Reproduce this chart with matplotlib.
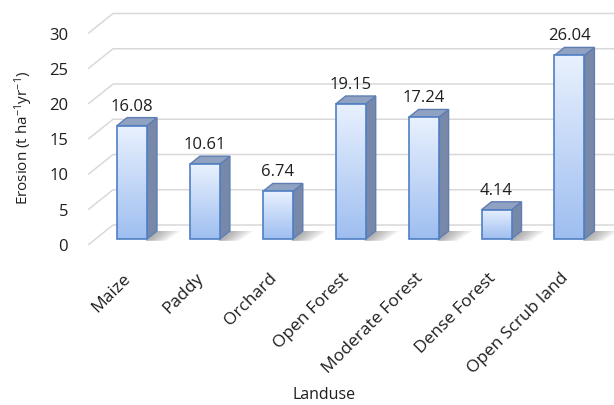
import numpy as np
import matplotlib
matplotlib.use('Agg')
import matplotlib.pyplot as plt
from matplotlib.patches import Polygon
from matplotlib.colors import LinearSegmentedColormap

# ---------------- data ----------------
categories = ['Maize', 'Paddy', 'Orchard', 'Open Forest', 'Moderate Forest',
              'Dense Forest', 'Open Scrub land']
erosion = [16.08, 10.61, 6.74, 19.15, 17.24, 4.14, 26.04]
y_ticks = [0, 5, 10, 15, 20, 25, 30]
x_title = 'Landuse'
y_title = r'Erosion (t ha$^{-1}$yr$^{-1}$)'

# ---------------- style ----------------
plt.rcParams['font.family'] = ['Open Sans', 'DejaVu Sans']
plt.rcParams['mathtext.fontset'] = 'custom'
plt.rcParams['mathtext.rm'] = 'Open Sans'
plt.rcParams['mathtext.it'] = 'Open Sans:italic'
plt.rcParams['mathtext.default'] = 'regular'

TXT = '#1f1f1f'
GRID = '#d9d9d9'
FS_YTICK = 12
FS_XTICK = 12.5
FS_DATA = 12
FS_TITLE = 11

W, H, DPI = 614, 405, 100
fig = plt.figure(figsize=(W / DPI, H / DPI), dpi=DPI)
fig.patch.set_facecolor('white')

# layout (pixels)
x0_px, slot_px = 124.5, 72.9      # category 0 centre, category spacing
base_px, unit_px = 245, 7.05      # y pixel of value 0, pixels per unit
ax_left_px = 80
ax = fig.add_axes([ax_left_px / W, (H - base_px) / H, (W - ax_left_px) / W, base_px / H])
ax.patch.set_visible(False)
for s in ax.spines.values():
    s.set_visible(False)

# pseudo-3D depth (full floor depth in data units)
DX = 25 / slot_px
DY = 20 / unit_px
f_d, b_d = 0.3, 0.7               # bar front / back depth fractions
fx, fy = f_d * DX, f_d * DY
ddx, ddy = (b_d - f_d) * DX, (b_d - f_d) * DY
BW = 30 / slot_px
n = len(categories)
xs = np.arange(n)

# wall gridlines
for t in y_ticks:
    ax.plot([-0.5, -0.5 + DX, n - 0.5 + DX + 0.5], [t, t + DY, t + DY],
            color=GRID, lw=1.1, zorder=1, clip_on=False, solid_capstyle='butt')

# shadows
for i, v in enumerate(erosion):
    x1 = xs[i] + fx + BW / 2
    for k in range(6):
        s = (k + 1) / 6 * 0.32
        ax.add_patch(Polygon([(x1 - 0.02, fy - 0.25), (x1 + ddx, fy + ddy), (x1 + ddx + s, fy + ddy),
                              (x1 + s * 0.8, fy - 0.25)], closed=True,
                             facecolor='#404040', edgecolor='none', alpha=0.08, zorder=2))

# bars: front faces
bars = ax.bar(xs + fx, erosion, width=BW, bottom=fy, facecolor='none',
              edgecolor='#4f7fc4', linewidth=1.2, zorder=6)
cmap = LinearSegmentedColormap.from_list('g', ['#9ebef0', '#e9f1fe'])
grad = np.linspace(0, 1, 256).reshape(-1, 1)
for i, (b, v) in enumerate(zip(bars, erosion)):
    left = xs[i] + fx - BW / 2
    x1 = left + BW
    im = ax.imshow(grad, cmap=cmap, origin='lower', aspect='auto',
                   extent=[left, x1, fy, fy + v], zorder=5, interpolation='bilinear')
    im.set_clip_path(b)
    # side face
    ax.add_patch(Polygon([(x1, fy), (x1 + ddx, fy + ddy), (x1 + ddx, fy + v + ddy), (x1, fy + v)],
                         closed=True, facecolor='#7888a8', edgecolor='#5f7db3', lw=1.0, zorder=4))
    # top face
    ax.add_patch(Polygon([(left, fy + v), (x1, fy + v), (x1 + ddx, fy + v + ddy), (left + ddx, fy + v + ddy)],
                         closed=True, facecolor='#90a2c2', edgecolor='#5f7db3', lw=1.0, zorder=4))
    ax.annotate(f'{v:.2f}', xy=(xs[i] + fx, fy + v), xytext=(0, 13.7), textcoords='offset points',
                ha='center', va='center', fontsize=FS_DATA, color=TXT, zorder=7)

ax.set_xlim((ax_left_px - x0_px) / slot_px, (W - x0_px) / slot_px)
ax.set_ylim(0, base_px / unit_px)

# ticks
ax.set_yticks(y_ticks)
ax.tick_params(axis='y', length=0, pad=8.6, labelsize=FS_YTICK, labelcolor=TXT)
ax.set_xticks(xs + 4 / slot_px)
ax.set_xticklabels(categories, rotation=45, ha='right', va='center', rotation_mode='anchor')
ax.tick_params(axis='x', length=0, pad=22.3, labelsize=FS_XTICK, labelcolor=TXT)

# axis titles
fig.text(24 / W, 1 - 137.5 / H, y_title, rotation=90, ha='center', va='center',
         fontsize=FS_TITLE, color=TXT)
fig.text(324 / W, 1 - 395 / H, x_title, ha='center', va='center', fontsize=FS_TITLE + 0.5, color=TXT)

fig.savefig('out.png', dpi=DPI)
